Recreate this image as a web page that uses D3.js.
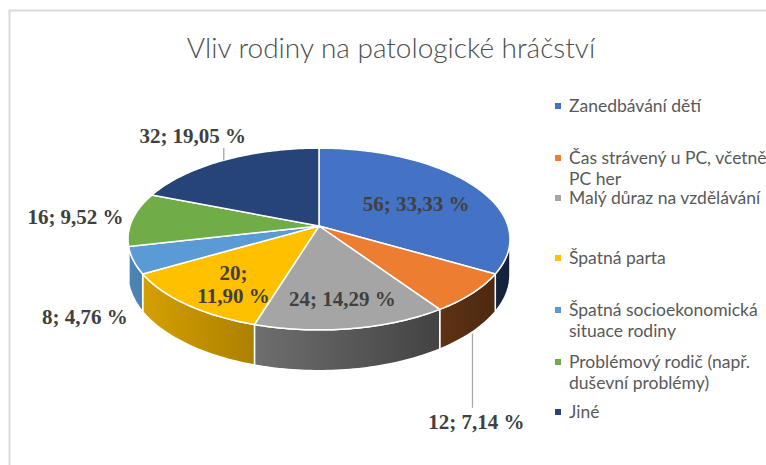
<!DOCTYPE html>
<html>
<head>
<meta charset="utf-8">
<script src="https://cdn.jsdelivr.net/npm/d3@7"></script>
<style>
  body { margin: 0; background: #fff; }
  svg { display: block; }
</style>
</head>
<body>
<svg width="766" height="465"></svg>
<script>
var categories = ["Zanedbávání dětí", "Čas strávený u PC, včetně PC her", "Malý důraz na vzdělávání",
  "Špatná parta", "Špatná socioekonomická situace rodiny", "Problémový rodič (např. duševní problémy)", "Jiné"]
var values = [56, 12, 24, 20, 8, 16, 32]
var colors = ["#4472C4", "#ED7D31", "#A5A5A5", "#FFC000", "#5B9BD5", "#70AD47", "#264478"]

// legend lines (wrapped as in the original)
var legendLines = [["Zanedbávání dětí"], ["Čas strávený u PC, včetně", "PC her"], ["Malý důraz na vzdělávání"],
  ["Špatná parta"], ["Špatná socioekonomická", "situace rodiny"], ["Problémový rodič (např.", "duševní problémy)"], ["Jiné"]]

var svg = d3.select("svg")

// chart frame
svg.append("rect").attr("x", 9.5).attr("y", 10.5).attr("width", 800).attr("height", 500)
  .attr("fill", "none").attr("stroke", "#d9d9d9").attr("stroke-width", 2)

svg.append("text").attr("x", 391).attr("y", 58).attr("text-anchor", "middle")
  .style("font-family", "Lato, 'Open Sans', sans-serif").style("font-weight", 300)
  .style("font-size", "28px").attr("fill", "#4d4d4d")
  .text("Vliv rodiny na patologické hráčství")

// 3d pie geometry
var cx = 319, cy = 226, rx = 189, ry = 89, k = 0.143, depth = 35

function proj(a, r, h) {
  var x = Math.sin(a) * r, z = -Math.cos(a) * r
  var s = 1 / (1 - k * z)
  return [cx + rx * x * s, cy + ry * z * s + (h || 0) * s]
}

function rim(a0, a1, h) {
  var n = Math.max(2, Math.ceil((a1 - a0) / 0.02)), pts = []
  for (var i = 0; i <= n; i++) pts.push(proj(a0 + (a1 - a0) * i / n, 1, h))
  return pts
}

var arcs = d3.pie().sort(null)(values)
var line = d3.line()

var defs = svg.append("defs")
arcs.forEach(function(d, i) {
  var c = d3.rgb(colors[i])
  var g = defs.append("linearGradient").attr("id", "side" + i)
    .attr("gradientUnits", "userSpaceOnUse").attr("x1", 130).attr("x2", 510).attr("y1", 0).attr("y2", 0)
  g.append("stop").attr("offset", 0).attr("stop-color", d3.rgb(c.r * 0.85, c.g * 0.85, c.b * 0.85))
  g.append("stop").attr("offset", 1).attr("stop-color", d3.rgb(c.r * 0.3, c.g * 0.3, c.b * 0.3))
})

// visible part of the outer wall
var visA = Math.acos(-k), visB = 2 * Math.PI - visA
var pie = svg.append("g")

arcs.forEach(function(d, i) {
  var a = Math.max(d.startAngle, visA), b = Math.min(d.endAngle, visB)
  if (b <= a) return
  var pts = rim(a, b, 0).concat(rim(a, b, depth).reverse())
  pie.append("path").attr("d", line(pts) + "Z")
    .attr("fill", "url(#side" + i + ")").attr("stroke", "#fff").attr("stroke-width", 1.5)
    .attr("stroke-linejoin", "round")
})

arcs.forEach(function(d, i) {
  var pts = [proj(0, 0, 0)].concat(rim(d.startAngle, d.endAngle, 0))
  pie.append("path").attr("d", line(pts) + "Z")
    .attr("fill", colors[i]).attr("stroke", "#fff").attr("stroke-width", 1.5)
    .attr("stroke-linejoin", "round")
})

// data labels
var total = d3.sum(values)
function labelText(v) {
  return v + "; " + (v / total * 100).toFixed(2).replace(".", ",") + " %"
}
// label placement: radial factor, depth offset, nudges, leader
var labelPlace = [
  { r: 0.62, h: 0, dx: 0, dy: 4 },
  { r: 1, h: depth, dx: 4, dy: 90, leader: "down" },
  { r: 0.74, h: 0, dx: 0, dy: 0 },
  { r: 0.7, h: 0, dx: 4, dy: 6, wrap: true },
  { r: 1.244, h: 0, dx: 0, dy: 48 },
  { r: 1.31, h: 0, dx: 0, dy: 0 },
  { r: 1.43, h: 0, dx: 4, dy: 0, leader: "up" }
]

var labels = svg.append("g")
  .style("font-family", "'Liberation Serif', 'Times New Roman', serif")
  .style("font-weight", "bold").style("font-size", "21px").attr("fill", "#404040")

arcs.forEach(function(d, i) {
  var lp = labelPlace[i]
  var mid = (d.startAngle + d.endAngle) / 2
  var p = proj(mid, lp.r, lp.h)
  var x = p[0] + lp.dx, y = p[1] + lp.dy
  if (lp.leader === "down") {
    labels.append("line").attr("x1", p[0]).attr("x2", p[0]).attr("y1", p[1] + 2).attr("y2", y - 14)
      .attr("stroke", "#a6a6a6").attr("stroke-width", 1.3)
  }
  if (lp.leader === "up") {
    var q = proj(mid, 1, 0)
    labels.append("line").attr("x1", q[0]).attr("x2", q[0]).attr("y1", q[1]).attr("y2", y + 12)
      .attr("stroke", "#a6a6a6").attr("stroke-width", 1.3)
  }
  var t = labels.append("text").attr("text-anchor", "middle")
  if (lp.wrap) {
    var txt = labelText(d.data).split(" ")
    t.append("tspan").attr("x", x).attr("y", y - 5).text(txt[0])
    t.append("tspan").attr("x", x).attr("y", y + 18).text(txt.slice(1).join(" "))
  } else {
    t.attr("x", x).attr("y", y + 7).text(labelText(d.data))
  }
})

// legend
var legendY = [106, 158, 198, 258, 310, 362, 412]
var legend = svg.append("g")
  .style("font-family", "Lato, 'Open Sans', sans-serif").style("font-size", "17.5px").attr("fill", "#595959")

categories.forEach(function(c, i) {
  var g = legend.append("g").attr("transform", "translate(555," + legendY[i] + ")")
  g.append("rect").attr("x", 0).attr("y", -3).attr("width", 6).attr("height", 6).attr("fill", colors[i])
  legendLines[i].forEach(function(l, j) {
    g.append("text").attr("x", 14).attr("y", 6 + j * 21).text(l)
  })
})
</script>
</body>
</html>
